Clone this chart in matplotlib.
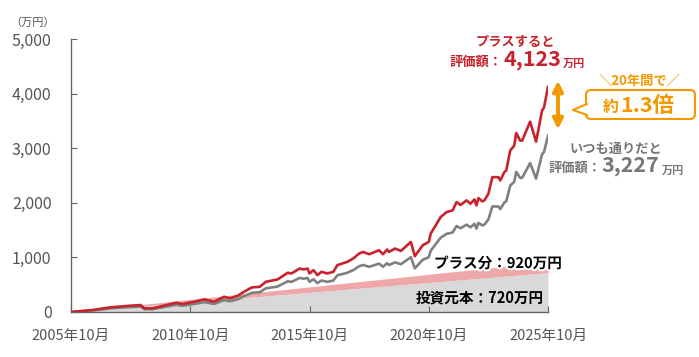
import numpy as np
import matplotlib
matplotlib.use("Agg")
import matplotlib.pyplot as plt
import matplotlib.patheffects as pe
from matplotlib.patches import FancyBboxPatch, FancyArrowPatch, Polygon
from matplotlib.lines import Line2D
from matplotlib.transforms import Affine2D

plt.rcParams['font.family'] = ['Noto Sans CJK JP', 'DejaVu Sans']

# --- donnees (mois depuis 2005/10, en 万円) ---
months = [0, 11, 20, 28, 35, 37, 41, 46, 53, 56, 62, 67, 72, 77, 80, 84, 87, 91, 95, 98,
          104, 109, 111, 115, 117, 119, 120, 122, 124, 126, 129, 132, 134, 139, 142, 145,
          147, 150, 155, 157, 159, 160, 163, 166, 171, 173, 177, 180, 181, 186, 189, 192,
          194, 196, 199, 201, 203, 204, 205, 207, 208, 210, 212, 215, 216, 218, 219, 221,
          223, 224, 226, 227, 231, 234, 237, 238, 240]
plus_values = [0, 37, 86, 110, 128, 67, 67, 110, 170, 146, 188, 232, 188, 279, 250, 300, 370, 450, 462, 553,
               597, 718, 706, 797, 779, 797, 706, 766, 675, 736, 706, 736, 858, 918, 980, 1071,
               1100, 1058, 1131, 1058, 1144, 1100, 1162, 1119, 1283, 1022, 1223, 1283, 1436, 1739, 1830, 1861,
               2013, 1960, 2044, 1983, 2062, 1953, 2086, 2026, 2044, 2166, 2470, 2470, 2409, 2561, 2592, 2957,
               3048, 3279, 3139, 3139, 3486, 3121, 3687, 3747, 4123]
usual_values = [0, 29, 67, 86, 100, 52, 52, 86, 133, 114, 147, 182, 147, 218, 196, 235, 290, 352, 362, 433,
                467, 562, 553, 624, 610, 624, 553, 600, 528, 576, 553, 576, 672, 718, 767, 838,
                861, 828, 885, 828, 895, 861, 909, 876, 1004, 800, 957, 1004, 1124, 1361, 1432, 1456,
                1575, 1534, 1600, 1552, 1614, 1528, 1633, 1586, 1600, 1695, 1933, 1933, 1885, 2004, 2029, 2314,
                2385, 2566, 2457, 2457, 2728, 2443, 2886, 2932, 3227]

principal_months = [0, 240]
principal_values = [0, 720]
plus_principal_values = [0, 920]

tick_months = [0, 60, 120, 180, 240]
tick_labels = ["2005年10月", "2010年10月", "2015年10月", "2020年10月", "2025年10月"]
y_ticks = [0, 1000, 2000, 3000, 4000, 5000]

RED = '#c8232c'
GRAY = '#808080'
ORANGE = '#f39800'
AXC = '#666666'

W, H = 699, 357
fig = plt.figure(figsize=(W / 100, H / 100), dpi=100)
ax = fig.add_axes([71 / W, 1 - 312 / H, (548 - 71) / W, (312 - 39) / H])

# repere en pixels (origine en haut a gauche)
px = Affine2D().scale(1 / 100).scale(1, -1).translate(0, H / 100) + fig.dpi_scale_trans

ax.fill_between(principal_months, 0, principal_values, color='#d9d9d9', lw=0, zorder=1)
ax.fill_between(principal_months, principal_values, plus_principal_values, color='#eea8aa', lw=0, zorder=1)
ax.plot(months, usual_values, color=GRAY, lw=1.9, zorder=3)
ax.plot(months, plus_values, color=RED, lw=1.9, zorder=4)

ax.set_xlim(0, 240)
ax.set_ylim(0, 5000)
ax.set_xticks(tick_months)
ax.set_xticklabels(tick_labels)
ax.set_yticks(y_ticks)
ax.set_yticklabels([f"{v:,}" for v in y_ticks])
for s in ['top', 'right']:
    ax.spines[s].set_visible(False)
for s in ['left', 'bottom']:
    ax.spines[s].set_color(AXC)
    ax.spines[s].set_linewidth(1)
ax.tick_params(axis='both', direction='in', length=4, color=AXC, labelcolor='#555555')
ax.tick_params(axis='x', labelsize=10.5, pad=12)
ax.tick_params(axis='y', labelsize=11.5, pad=14)

def ftext(x, y, s, **kw):
    fig.text(x / W, 1 - y / H, s, **kw)

ftext(33, 23, "（万円）", fontsize=8, color='#555555', ha='center', va='center')

# --- bloc rouge ---
ftext(515, 42, "プラスすると", fontsize=9.5, color=RED, weight='bold', ha='center', va='center')
ftext(503, 62, "評価額：", fontsize=9.5, color=RED, weight='bold', ha='right', va='center')
ftext(503, 60, "4,123", fontsize=15.5, color=RED, weight='bold', ha='left', va='center')
ftext(563, 63, "万円", fontsize=8, color=RED, weight='bold', ha='left', va='center')

# --- bloc gris ---
ftext(616, 149, "いつも通りだと", fontsize=9.5, color='#777777', weight='bold', ha='center', va='center')
ftext(602, 168, "評価額：", fontsize=9.5, color='#777777', weight='bold', ha='right', va='center')
ftext(601, 166, "3,227", fontsize=15.5, color='#777777', weight='bold', ha='left', va='center')
ftext(662, 170, "万円", fontsize=8, color='#777777', weight='bold', ha='left', va='center')

# --- fleche et bulle ---
fig.add_artist(FancyArrowPatch((558, 78), (558, 132), transform=px, arrowstyle='<|-|>',
                               mutation_scale=15, color=ORANGE, lw=2.8))
box = FancyBboxPatch((586, 90), 109, 29, boxstyle='round,pad=0,rounding_size=5',
                     transform=px, facecolor='white', edgecolor=ORANGE, lw=1.5)
fig.add_artist(box)
fig.add_artist(Polygon([(588, 104), (573, 110), (588, 115)], closed=True, transform=px,
                       facecolor='white', edgecolor='none', zorder=5))
fig.add_artist(Line2D([587, 573, 587], [104, 110, 115], transform=px, color=ORANGE, lw=1.5, zorder=6))
ftext(640, 81, "＼20年間で／", fontsize=9.5, color=ORANGE, weight='bold', ha='center', va='center')
ftext(619, 107, "約", fontsize=11.5, color=ORANGE, weight='bold', ha='right', va='center')
ftext(620, 105, "1.3倍", fontsize=15.5, color=ORANGE, weight='bold', ha='left', va='center')

# --- libelles du bas ---
halo = [pe.withStroke(linewidth=3, foreground='white')]
ftext(498, 263, "プラス分：920万円", fontsize=10.5, color='black', weight='bold',
      ha='center', va='center', path_effects=halo)
ftext(480, 297, "投資元本：720万円", fontsize=10.5, color='black', weight='bold',
      ha='center', va='center')

plt.savefig('out.png', dpi=100)
